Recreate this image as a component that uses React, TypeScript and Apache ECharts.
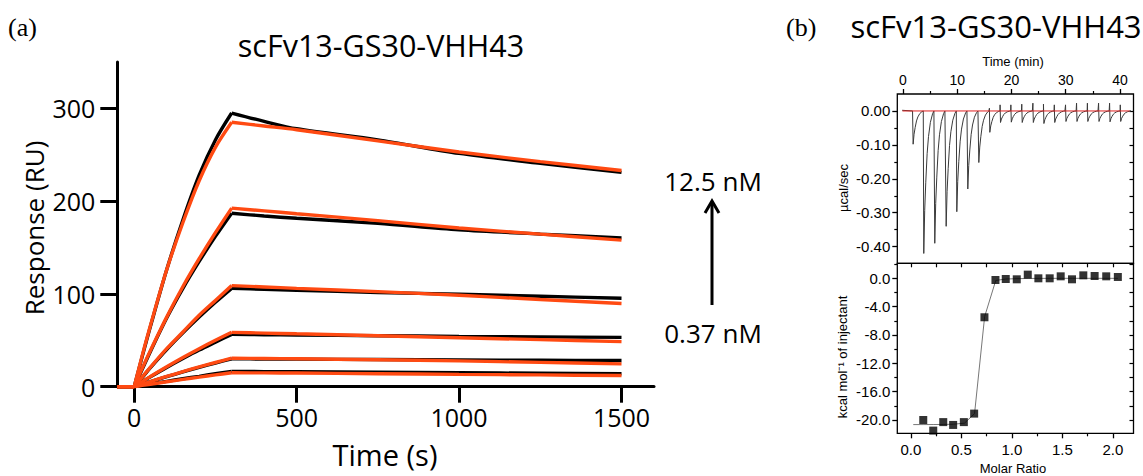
import React, { useEffect, useRef } from "react";
import * as echarts from "echarts";

// ---------- Panel (a): SPR sensorgrams ----------
const kinTime = [-52, 0, 25, 50, 100, 150, 200, 250, 300, 400, 500, 750, 1000, 1250, 1500];
const meas12_5 = [0, 0, 33, 65, 126, 180, 228, 266, 295, 286, 278, 266, 251.5, 240.7, 231];
const fit12_5 = [0, 0, 34, 66, 126, 177, 222, 258, 285, 281, 277, 265, 253, 242.6, 233];
const meas6_25 = [0, 0, 19, 38, 74, 106, 135, 162, 187, 184, 181.5, 176, 169, 164.5, 160.4];
const fit6_25 = [0, 0, 20, 39, 75, 108, 138, 166, 192.5, 189.5, 186.5, 179, 171, 164.5, 158];
const meas3_13 = [0, 0, 10, 20.5, 40, 58, 75, 91, 106, 105, 104, 101.5, 99.7, 97.5, 95.4];
const fit3_13 = [0, 0, 10.5, 21, 41, 59, 77, 93, 109, 107.5, 106, 102.5, 98.5, 94, 89.7];
const meas1_56 = [0, 0, 5.3, 10.6, 20.7, 30.3, 39.5, 48, 56.4, 56, 55.7, 55, 54.3, 53.7, 53.2];
const fit1_56 = [0, 0, 5.5, 11, 21.5, 31.5, 41, 50, 58.6, 57.8, 57, 55, 52.8, 50.7, 48.6];
const meas0_78 = [0, 0, 2.7, 5.5, 10.8, 15.9, 20.8, 25.5, 30, 29.9, 29.7, 29.3, 28.9, 28.5, 28.2];
const fit0_78 = [0, 0, 2.8, 5.6, 11, 16.3, 21.3, 26.1, 30.7, 30.4, 30.1, 29.1, 27.8, 26.2, 24.6];
const meas0_37 = [0, 0, 1.5, 2.9, 5.8, 8.6, 11.2, 13.9, 16.4, 16.3, 16.1, 15.6, 15, 14.5, 14];
const fit0_37 = [0, 0, 1.4, 2.7, 5.3, 7.9, 10.3, 12.7, 15, 14.9, 14.7, 14, 13.3, 12.7, 12];
const measuredCurves = [meas12_5, meas6_25, meas3_13, meas1_56, meas0_78, meas0_37];
const fittedCurves = [fit12_5, fit6_25, fit3_13, fit1_56, fit0_78, fit0_37];
const injectStartIdx = 1; // t = 0 s
const injectEndIdx = 8; // t = 300 s
const kinXTicks = [0, 500, 1000, 1500];
const kinYTicks = [0, 100, 200, 300];
const concHigh = "12.5 nM";
const concLow = "0.37 nM";
const titleText = "scFv13-GS30-VHH43";

// ---------- Panel (b) top: ITC raw thermogram ----------
const injTime = [1.79, 3.75, 5.78, 7.88, 9.84, 11.87, 13.9, 15.93, 17.9, 19.89, 21.9, 23.95, 25.9, 27.9, 29.97, 32.0, 34.0, 36.06, 38.09, 40.06];
const injMin = [-0.098, -0.42, -0.39, -0.34, -0.297, -0.23, -0.152, -0.063, -0.034, -0.033, -0.034, -0.034, -0.037, -0.034, -0.031, -0.031, -0.031, -0.031, -0.032, -0.031];
const injMax = [0, 0, 0, 0, 0, 0, 0, 0.008, 0.018, 0.018, 0.02, 0.023, 0.02, 0.018, 0.018, 0.023, 0.023, 0.023, 0.023, 0.018];
const spikeOffset = [0.08, 0.25, 0.45, 0.7, 0.95, 1.3, 1.7, 1.95];
const spikeFrac = [1, 0.7, 0.5, 0.3, 0.18, 0.08, 0.02, 0];
const traceStart = -0.15;
const traceEnd = 41.8;
const baselineTime = [-0.1, 41.8];
const baselineVal = [0, 0];
const timeTicks = [0, 10, 20, 30, 40];
const timeMinor = [5, 15, 25, 35];
const powerTicks = [-0.4, -0.3, -0.2, -0.1, 0];
const powerMinor = [-0.35, -0.25, -0.15, -0.05];

// ---------- Panel (b) bottom: integrated heats ----------
const molarRatio = [0.122, 0.221, 0.32, 0.418, 0.524, 0.626, 0.728, 0.837, 0.939, 1.048, 1.157, 1.262, 1.374, 1.483, 1.595, 1.707, 1.819, 1.934, 2.049];
const heat = [-20.0, -21.5, -20.3, -20.7, -20.3, -19.1, -5.5, -0.24, -0.1, -0.14, 0.52, 0, 0, 0.28, -0.14, 0.42, 0.33, 0.28, 0.19];
const fitRatio = [0.023, 0.12, 0.22, 0.32, 0.42, 0.53, 0.63, 0.73, 0.84, 0.94, 1.05, 1.16, 1.27, 1.38, 1.49, 1.6, 1.71, 1.82, 1.93, 2.05];
const fitHeat = [-20.65, -20.65, -20.64, -20.63, -20.6, -20.45, -19.1, -5.4, -0.3, -0.1, -0.05, -0.02, -0.01, 0, 0, 0, 0, 0, 0, 0];
const ratioTicks = [0, 0.5, 1, 1.5, 2];
const ratioMinor = [0.25, 0.75, 1.25, 1.75];
const ratioAll = [0, 0.25, 0.5, 0.75, 1, 1.25, 1.5, 1.75, 2];
const heatTicks = [0, -4, -8, -12, -16, -20];
const heatMinor = [2, -2, -6, -10, -14, -18];

const SANS = "Open Sans";
const ARIAL = "Liberation Sans";
const ORANGE = "#ff4a12";

function buildTrace() {
  const pts: number[][] = [[traceStart, 0.002]];
  injTime.forEach((t, i) => {
    pts.push([t - 0.03, 0]);
    if (injMax[i] > 0) pts.push([t, injMax[i]]);
    spikeOffset.forEach((o, k) => pts.push([t + o, injMin[i] * spikeFrac[k]]));
  });
  pts.push([traceEnd, 0]);
  return pts;
}

function tickAxis(base: any, ticks: number[], len: number, inside: boolean, lw: number) {
  return {
    type: "value",
    ...base,
    axisLine: { show: false, onZero: false },
    axisTick: { show: true, customValues: ticks, inside, length: len, lineStyle: { color: "#000", width: lw } },
    axisLabel: { show: false },
    splitLine: { show: false },
  };
}

function segment(values: number[], from: number, to: number) {
  const pts: number[][] = [];
  for (let i = from; i <= to; i++) pts.push([kinTime[i], values[i]]);
  return pts;
}

export default function App() {
  const ref = useRef<HTMLDivElement>(null);
  useEffect(() => {
    if (!ref.current) return;
    const chart = echarts.init(ref.current, undefined, { renderer: "svg" });

    const g1x = { gridIndex: 1, min: -1.05, max: 42.5 };
    const g1y = { gridIndex: 1, min: -0.449, max: 0.05 };
    const g2x = { gridIndex: 2, min: -0.135, max: 2.204 };
    const g2y = { gridIndex: 2, min: -21.88, max: 2.12 };
    const itcLabel = { fontSize: 15, fontFamily: ARIAL, color: "#000" };

    const series: any[] = [];
    const addCurve = (c: number[], color: string, z: number) => {
      const common = { type: "line", xAxisIndex: 0, yAxisIndex: 0, showSymbol: false, symbol: "none", lineStyle: { color, width: 3.4 }, z };
      series.push({ ...common, data: segment(c, 0, injectStartIdx) });
      series.push({ ...common, smooth: 0.3, data: segment(c, injectStartIdx, injectEndIdx) });
      series.push({ ...common, smooth: 0.3, data: segment(c, injectEndIdx, kinTime.length - 1) });
    };
    measuredCurves.forEach((c) => addCurve(c, "#000", 2));
    fittedCurves.forEach((c) => addCurve(c, ORANGE, 3));

    series.push({
      type: "line", xAxisIndex: 1, yAxisIndex: 1, symbol: "none", data: buildTrace(),
      lineStyle: { color: "#3a3a3a", width: 1 }, z: 2,
    });
    series.push({
      type: "line", xAxisIndex: 1, yAxisIndex: 1, symbol: "none",
      data: baselineTime.map((t, i) => [t, baselineVal[i]]),
      lineStyle: { color: "#e02020", width: 1 }, z: 3,
    });
    series.push({
      type: "line", xAxisIndex: 3, yAxisIndex: 4, symbol: "none",
      data: fitRatio.map((r, i) => [r, fitHeat[i]]),
      lineStyle: { color: "#777", width: 1 }, z: 2,
    });
    series.push({
      type: "scatter", xAxisIndex: 3, yAxisIndex: 4, symbol: "rect", symbolSize: 8,
      data: molarRatio.map((r, i) => [r, heat[i]]),
      itemStyle: { color: "#000" }, z: 3,
    });

    const option: any = {
      animation: false,
      backgroundColor: "#fff",
      grid: [
        { left: 117.3, top: 62, width: 536.7, height: 324.7, containLabel: false },
        { left: 897.3, top: 94, width: 236.2, height: 169.3, show: true, borderColor: "#000", borderWidth: 1.3, backgroundColor: "transparent" },
        { left: 897.3, top: 263.3, width: 236.2, height: 170, show: true, borderColor: "#000", borderWidth: 1.3, backgroundColor: "transparent" },
      ],
      xAxis: [
        {
          type: "value", gridIndex: 0, min: -52, max: 1600, position: "bottom",
          axisLine: { onZero: false, lineStyle: { color: "#000", width: 3 } },
          axisTick: { customValues: kinXTicks, length: 16, lineStyle: { color: "#000", width: 3 } },
          axisLabel: { customValues: kinXTicks, fontSize: 25, fontFamily: SANS, color: "#000", margin: 18, formatter: (v: number) => String(v) },
          splitLine: { show: false },
        },
        {
          type: "value", ...g1x, position: "top",
          axisLine: { show: false, onZero: false },
          axisTick: { customValues: timeTicks, length: 5, lineStyle: { color: "#000", width: 1.3 } },
          axisLabel: { customValues: timeTicks, fontSize: 14, fontFamily: ARIAL, color: "#000", margin: 7 },
          splitLine: { show: false },
        },
        tickAxis({ ...g1x, position: "top" }, timeMinor, 3, false, 1.2),
        {
          type: "value", ...g2x, position: "bottom",
          axisLine: { show: false, onZero: false },
          axisTick: { customValues: ratioTicks, length: 5, lineStyle: { color: "#000", width: 1.3 } },
          axisLabel: { customValues: ratioTicks, ...itcLabel, margin: 9, formatter: (v: number) => v.toFixed(1) },
          splitLine: { show: false },
        },
        tickAxis({ ...g2x, position: "bottom" }, ratioMinor, 3, false, 1.2),
        tickAxis({ ...g2x, position: "top" }, ratioAll, 4, true, 1.2),
      ],
      yAxis: [
        {
          type: "value", gridIndex: 0, min: 0, max: 350, position: "left",
          axisLine: { onZero: false, lineStyle: { color: "#000", width: 3 } },
          axisTick: { customValues: kinYTicks, length: 17, lineStyle: { color: "#000", width: 3 } },
          axisLabel: { customValues: kinYTicks, fontSize: 25, fontFamily: SANS, color: "#000", margin: 22, formatter: (v: number) => String(v) },
          splitLine: { show: false },
        },
        {
          type: "value", ...g1y, position: "left",
          axisLine: { show: false, onZero: false },
          axisTick: { customValues: powerTicks, length: 5, lineStyle: { color: "#000", width: 1.3 } },
          axisLabel: { customValues: powerTicks, ...itcLabel, margin: 7, formatter: (v: number) => v.toFixed(2) },
          splitLine: { show: false },
        },
        tickAxis({ ...g1y, position: "left" }, powerMinor, 3, false, 1.2),
        tickAxis({ ...g1y, position: "right" }, [...powerTicks, ...powerMinor], 4, true, 1.2),
        {
          type: "value", ...g2y, position: "left",
          axisLine: { show: false, onZero: false },
          axisTick: { customValues: heatTicks, length: 5, lineStyle: { color: "#000", width: 1.3 } },
          axisLabel: { customValues: heatTicks, ...itcLabel, margin: 7, formatter: (v: number) => v.toFixed(1) },
          splitLine: { show: false },
        },
        tickAxis({ ...g2y, position: "left" }, heatMinor, 3, false, 1.2),
        tickAxis({ ...g2y, position: "right" }, [...heatTicks, ...heatMinor], 4, true, 1.2),
      ],
      series,
      graphic: [
        { type: "text", x: 8, y: 27, style: { text: "(a)", fontSize: 26, fontFamily: "Liberation Serif", fill: "#000", align: "left", verticalAlign: "middle" } },
        { type: "text", x: 786, y: 27, style: { text: "(b)", fontSize: 26, fontFamily: "Liberation Serif", fill: "#000", align: "left", verticalAlign: "middle" } },
        { type: "text", x: 381, y: 45, style: { text: titleText, fontSize: 30.5, fontFamily: SANS, fill: "#000", align: "center", verticalAlign: "middle" } },
        { type: "text", x: 996, y: 26, style: { text: titleText, fontSize: 31, fontFamily: SANS, fill: "#000", align: "center", verticalAlign: "middle" } },
        { type: "text", x: 34, y: 228, rotation: Math.PI / 2, style: { text: "Response (RU)", fontSize: 26, fontFamily: SANS, fill: "#000", align: "center", verticalAlign: "middle" } },
        { type: "text", x: 385, y: 454, style: { text: "Time (s)", fontSize: 29, fontFamily: SANS, fill: "#000", align: "center", verticalAlign: "middle" } },
        { type: "text", x: 713, y: 181, style: { text: concHigh, fontSize: 26, fontFamily: SANS, fill: "#000", align: "center", verticalAlign: "middle" } },
        { type: "text", x: 713, y: 333, style: { text: concLow, fontSize: 26, fontFamily: SANS, fill: "#000", align: "center", verticalAlign: "middle" } },
        { type: "line", shape: { x1: 712, y1: 305, x2: 712, y2: 202 }, style: { stroke: "#000", lineWidth: 3 } },
        { type: "polyline", shape: { points: [[705, 213], [712, 201], [719, 213]] }, style: { stroke: "#000", lineWidth: 3, fill: null, lineJoin: "miter" } },
        { type: "text", x: 1013, y: 61, style: { text: "Time (min)", fontSize: 13, fontFamily: ARIAL, fill: "#000", align: "center", verticalAlign: "middle" } },
        { type: "text", x: 843, y: 188, rotation: Math.PI / 2, style: { text: "µcal/sec", fontSize: 13, fontFamily: ARIAL, fill: "#000", align: "center", verticalAlign: "middle" } },
        { type: "text", x: 842, y: 357, rotation: Math.PI / 2, style: { text: "kcal mol⁻¹ of injectant", fontSize: 13, fontFamily: ARIAL, fill: "#000", align: "center", verticalAlign: "middle" } },
        { type: "text", x: 1013, y: 468, style: { text: "Molar Ratio", fontSize: 13, fontFamily: ARIAL, fill: "#000", align: "center", verticalAlign: "middle" } },
      ],
    };
    chart.setOption(option);
    return () => chart.dispose();
  }, []);
  return <div ref={ref} style={{ position: "absolute", left: 0, top: 0, width: 1143, height: 476 }} />;
}
